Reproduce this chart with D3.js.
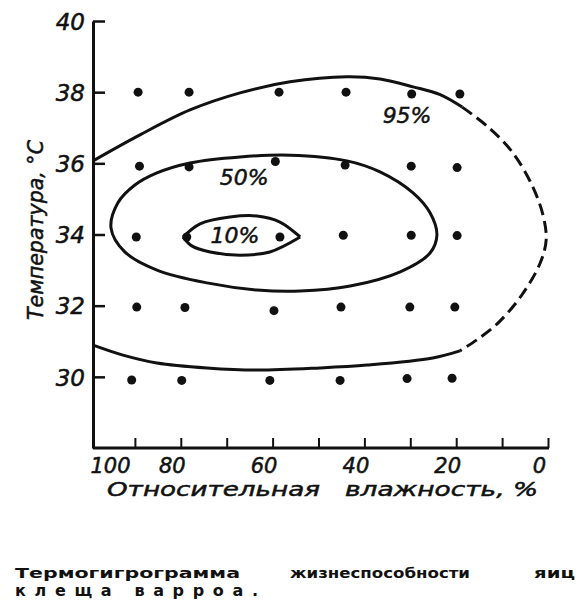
<!DOCTYPE html>
<html>
<head>
<meta charset="utf-8">
<script src="https://cdn.jsdelivr.net/npm/d3@7"></script>
<style>
  body { margin: 0; background: #fff; }
  text { font-family: "DejaVu Sans", sans-serif; fill: #111; }
  .ital { font-style: italic; stroke: #111; stroke-width: 0.5px; }
</style>
</head>
<body>
<div id="chart"></div>
<script>
// values: humidity (%), temperature (°C)
var humTicks = [90, 80, 70, 60, 50, 40, 30, 20, 10, 0];
var humLabels = [100, 80, 60, 40, 20, 0];
var tempTicks = [30, 32, 34, 36, 38, 40];

// experiment points
var points = [
  [89.3, 38.0], [78.2, 38.0], [58.6, 38.0], [44.0, 38.0], [29.7, 37.95], [19.2, 37.95],
  [89.0, 35.92], [78.2, 35.9], [59.4, 36.05], [44.2, 35.95], [29.8, 35.92], [19.8, 35.88],
  [89.7, 33.93], [78.7, 33.93], [58.4, 33.93], [44.6, 33.98], [29.8, 33.98], [19.8, 33.97],
  [89.6, 31.96], [79.1, 31.95], [59.7, 31.86], [45.1, 31.96], [30.1, 31.96], [20.3, 31.96],
  [90.7, 29.91], [79.8, 29.9], [60.6, 29.9], [45.3, 29.9], [30.7, 29.95], [20.9, 29.96]
];

// 95% isoline: solid upper part, dashed (extrapolated) part, solid lower part
var c95top = [[99.1, 36.07], [88.9, 36.8], [78.0, 37.5], [67.1, 37.98], [56.2, 38.29],
  [43.8, 38.43], [36.6, 38.37], [29.4, 38.15], [23.5, 37.93], [18.7, 37.58]];
var c95dash = [[18.7, 37.58], [13.3, 37.05], [7.8, 36.32], [3.5, 35.39], [1.1, 34.55],
  [0.4, 33.85], [1.7, 33.2], [5.7, 32.3], [10.9, 31.51], [15.5, 31.04], [19.2, 30.73]];
var c95bottom = [[19.2, 30.73], [25.1, 30.53], [39.4, 30.33], [49.7, 30.25], [63.4, 30.19],
  [74.3, 30.25], [85.2, 30.39], [92.6, 30.61], [99.1, 30.89]];

// 50% isoline (closed)
var c50 = [[95.2, 34.18], [93.7, 34.89], [90.0, 35.39], [85.2, 35.73], [78.0, 36.01],
  [67.1, 36.18], [56.2, 36.23], [43.8, 36.07], [36.6, 35.76], [29.4, 35.17], [25.7, 34.61],
  [24.2, 33.99], [25.7, 33.48], [32.2, 32.95], [43.1, 32.55], [54.0, 32.41], [63.4, 32.44],
  [74.3, 32.64], [85.2, 33.0], [92.2, 33.51]];

// 10% isoline (lens shape)
var c10top = [[79.5, 33.93], [75.8, 34.3], [69.3, 34.49], [63.4, 34.52], [58.4, 34.35], [54.0, 33.93]];
var c10bottom = [[79.5, 33.93], [77.6, 33.68], [73.6, 33.51], [67.1, 33.42], [60.6, 33.51], [54.0, 33.93]];

var isoLabels = ["95%", "50%", "10%"];
var isoLabelAt = [[30.7, 37.13], [66.2, 35.39], [68.2, 33.76]];

var width = 585, height = 607;

var svg = d3.select("#chart")
  .append("svg")
  .attr("width", width)
  .attr("height", height);

var x = d3.scaleLinear().domain([100, 0]).range([89, 548]);
var y = d3.scaleLinear().domain([28, 40]).range([448, 21]);
var axisX = 93;

// y axis, ticks pointing inward
var gy = svg.append("g")
  .attr("transform", "translate(" + axisX + ",0)")
  .call(d3.axisLeft(y).tickValues(tempTicks).tickSize(-12).tickSizeOuter(0).tickPadding(8));
gy.select(".domain").attr("stroke", "#111").attr("stroke-width", 3);
gy.selectAll(".tick line").attr("stroke", "#111").attr("stroke-width", 2.5);
gy.selectAll(".tick text")
  .attr("class", "ital")
  .style("font-size", "23px")
  .attr("dy", "0.36em");

// x axis tick marks
var gx = svg.append("g")
  .attr("transform", "translate(0," + y(28) + ")")
  .call(d3.axisBottom(x).tickValues(humTicks).tickSize(-10).tickSizeOuter(0).tickFormat(""));
gx.select(".domain").remove();
gx.selectAll(".tick line").attr("stroke", "#111").attr("stroke-width", 2);

svg.append("line")
  .attr("x1", axisX).attr("x2", x(0) + 1)
  .attr("y1", y(28)).attr("y2", y(28))
  .attr("stroke", "#111").attr("stroke-width", 3);

// x axis labels
var gxl = svg.append("g")
  .attr("transform", "translate(0," + y(28) + ")")
  .call(d3.axisBottom(x).tickValues(humLabels).tickSize(0).tickPadding(10));
gxl.select(".domain").remove();
gxl.selectAll(".tick text")
  .attr("class", "ital")
  .style("font-size", "21px")
  .attr("text-anchor", d => d === 100 ? "start" : "middle")
  .attr("dx", d => d === 100 ? 1 : -9);

// axis titles
svg.append("text")
  .attr("class", "ital")
  .attr("transform", "translate(43,230) rotate(-90)")
  .attr("text-anchor", "middle")
  .attr("textLength", 180)
  .attr("lengthAdjust", "spacingAndGlyphs")
  .style("font-size", "21px")
  .text("Температура, °С");

svg.append("text")
  .attr("class", "ital")
  .attr("x", 107).attr("y", 496)
  .attr("textLength", 213)
  .attr("lengthAdjust", "spacingAndGlyphs")
  .style("font-size", "20px")
  .text("Относительная");

svg.append("text")
  .attr("class", "ital")
  .attr("x", 345).attr("y", 496)
  .attr("textLength", 193)
  .attr("lengthAdjust", "spacingAndGlyphs")
  .style("font-size", "20px")
  .text("влажность, %");

// isolines
var line = d3.line()
  .x(d => x(d[0]))
  .y(d => y(d[1]))
  .curve(d3.curveCatmullRom.alpha(0.5));

var closedLine = d3.line()
  .x(d => x(d[0]))
  .y(d => y(d[1]))
  .curve(d3.curveCatmullRomClosed.alpha(0.5));

var iso = svg.append("g")
  .attr("fill", "none")
  .attr("stroke", "#111")
  .attr("stroke-width", 3)
  .attr("stroke-linecap", "butt");

iso.append("path").attr("d", line(c95top));
iso.append("path").attr("d", line(c95bottom));
iso.append("path").attr("d", line(c95dash)).attr("stroke-dasharray", "12,6");
iso.append("path").attr("d", closedLine(c50));
iso.append("path").attr("d", line(c10top));
iso.append("path").attr("d", line(c10bottom));

// points
svg.append("g")
  .selectAll("circle")
  .data(points)
  .enter()
  .append("circle")
  .attr("cx", d => x(d[0]))
  .attr("cy", d => y(d[1]))
  .attr("r", 4.5)
  .attr("fill", "#111");

// isoline labels
svg.append("g")
  .selectAll("text")
  .data(isoLabels)
  .enter()
  .append("text")
  .attr("class", "ital")
  .attr("x", (d, i) => x(isoLabelAt[i][0]))
  .attr("y", (d, i) => y(isoLabelAt[i][1]))
  .attr("text-anchor", "middle")
  .style("font-size", "22px")
  .text(d => d);

// caption under the figure
var cap = svg.append("g").style("font-weight", "bold").style("font-size", "14px");
cap.append("text").attr("x", 15).attr("y", 578).attr("textLength", 225).attr("lengthAdjust", "spacingAndGlyphs").text("Термогигрограмма");
cap.append("text").attr("x", 290).attr("y", 578).attr("textLength", 180).attr("lengthAdjust", "spacingAndGlyphs").text("жизнеспособности");
cap.append("text").attr("x", 534).attr("y", 578).attr("textLength", 41).attr("lengthAdjust", "spacingAndGlyphs").text("яиц");
cap.append("text").attr("x", 15).attr("y", 596).attr("textLength", 247).attr("lengthAdjust", "spacing")
  .style("letter-spacing", "4px").style("font-size", "16px").text("клеща варроа.");
</script>
</body>
</html>
